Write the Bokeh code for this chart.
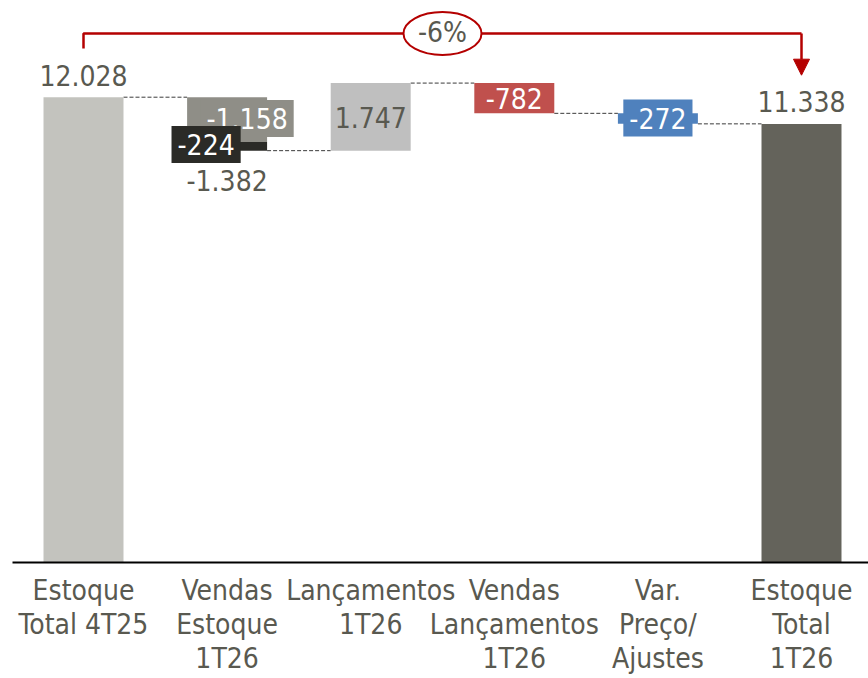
from bokeh.plotting import figure
from bokeh.models import Range1d, ColumnDataSource, Label, Arrow, NormalHead
from bokeh.core.properties import value
from bokeh.embed import file_html
from bokeh.resources import INLINE

# ---------------- data ----------------
categories = ["Estoque\nTotal 4T25", "Vendas\nEstoque\n1T26", "Lançamentos\n1T26",
              "Vendas\nLançamentos\n1T26", "Var.\nPreço/\nAjustes", "Estoque\nTotal\n1T26"]
start_total = 12028
vendas_estoque_parts = [-1158, -224]
vendas_estoque_total = -1382
lancamentos = 1747
vendas_lancamentos = -782
var_preco = -272
end_total = 11338
pct_change = "-6%"

# ---------------- styles ----------------
FONT = "DejaVu Sans Condensed"
TXT = "#595950"
RED_LINE = "#B40000"
C_START = "#C3C3BE"
C_VE1 = "#8F8E87"
C_VE2 = "#2B2B27"
C_LANC = "#BFBFBF"
C_VL = "#C0504D"
C_VAR = "#4F81BD"
C_END = "#64635B"
BAR_W = 0.557

W, H = 868, 678
PX_X = 143.6                 # px per category
X0 = -83 / PX_X              # first category centre 83px from the left edge
X1 = X0 + W / PX_X
PX_Y = 465.3 / 12028         # px per unit
BASE = 562                   # px of value 0 from the top
Y1 = BASE / PX_Y
Y0 = Y1 - H / PX_Y
U = 1 / PX_Y                 # units per px
SHIFT = 12                   # renderer baseline correction (px)


def fmt(v):
    return f"{v:,}".replace(",", ".")


# ---------------- waterfall levels ----------------
l0 = start_total
l1 = l0 + vendas_estoque_parts[0]
l2 = l1 + vendas_estoque_parts[1]
l3 = l2 + lancamentos
l4 = l3 + vendas_lancamentos
l5 = l4 + var_preco

xs = list(range(len(categories)))

bars = dict(
    x=[0, 1, 1, 2, 3, 4, 5],
    bottom=[0, l1, l2, l2, l4, l5, 0],
    top=[l0, l0, l1, l3, l3, l4, end_total],
    color=[C_START, C_VE1, C_VE2, C_LANC, C_VL, C_VAR, C_END],
)
bars["left"] = [x - BAR_W / 2 for x in bars["x"]]
bars["right"] = [x + BAR_W / 2 for x in bars["x"]]

p = figure(width=W, height=H, x_range=Range1d(X0, X1), y_range=Range1d(Y0, Y1),
           output_backend="svg", toolbar_location=None,
           x_axis_location=None, y_axis_location=None, min_border=0)
p.outline_line_color = None
p.background_fill_color = "white"
p.border_fill_color = "white"
p.xgrid.visible = False
p.ygrid.visible = False

# connectors
levels = [l0, l2, l3, l4, l5]
p.segment(x0=[i + BAR_W / 2 for i in range(5)], x1=[i + 1 - BAR_W / 2 for i in range(5)],
          y0=levels, y1=levels, line_color="#3A3A3A", line_width=1, line_dash="4 2")

p.quad(left="left", right="right", bottom="bottom", top="top", fill_color="color",
       line_color=None, source=ColumnDataSource(bars))

# axis line
p.segment(x0=[X0 + 12 / PX_X], x1=[X1], y0=[0], y1=[0], line_color="black", line_width=2)

# category labels
p.text(x=xs, y=[0] * len(xs), text=categories, text_font=value(FONT),
       text_font_size="28px", text_color=TXT, text_align="center",
       text_baseline="top", y_offset=11, text_line_height=1.04)


def plain(x, y, txt, color, down):
    p.text(x=[x], y=[y], text=[txt], text_font=value(FONT), text_font_size="28px",
           text_color=color, text_align="center", text_baseline="alphabetic",
           y_offset=down - SHIFT)


plain(0, start_total, fmt(start_total), TXT, -9.5)
plain(5, end_total, fmt(end_total), TXT, -10.4)
plain(2, (l2 + l3) / 2, fmt(lancamentos), TXT, 12.6)
plain(1, l2, fmt(vendas_estoque_total), TXT, 42)
plain(3, (l3 + l4) / 2, fmt(vendas_lancamentos), "white", 12.3)


# boxed labels
def boxed(x, y, txt, bg, dx, down):
    lab = Label(x=x, y=y, text=txt, x_offset=dx, y_offset=SHIFT - down, text_font=FONT,
                text_font_size="28px", text_color="white", text_align="center",
                text_baseline="alphabetic", background_fill_color=bg,
                background_fill_alpha=1.0,
                padding=dict(left=6, right=6, top=8, bottom=8))
    p.add_layout(lab)


boxed(1, (l0 + l1) / 2, fmt(vendas_estoque_parts[0]), C_VE1, 20, 10.9)
boxed(1, (l1 + l2) / 2, fmt(vendas_estoque_parts[1]), C_VE2, -21, 10.2)
boxed(4, (l4 + l5) / 2, fmt(var_preco), C_VAR, 0, 11.5)

# change bracket
y_br = l0 + 63.7 * U
p.line(x=[0, 0, 5], y=[l0 + 48.7 * U, y_br, y_br], line_color=RED_LINE, line_width=2.5)
p.add_layout(Arrow(x_start=5, y_start=y_br, x_end=5, y_end=end_total + 48.7 * U,
                   line_color=RED_LINE, line_width=2.5,
                   end=NormalHead(size=16, fill_color=RED_LINE, line_color=RED_LINE)))
p.ellipse(x=[2.5], y=[y_br], width=78, height=43, width_units="screen", height_units="screen",
          fill_color="white", line_color=RED_LINE, line_width=2)
p.text(x=[2.5], y=[y_br], text=[pct_change], text_font=value(FONT), text_font_size="28px",
       text_color=TXT, text_align="center", text_baseline="alphabetic", y_offset=-1)

open("out.html", "w").write(file_html(p, INLINE))
